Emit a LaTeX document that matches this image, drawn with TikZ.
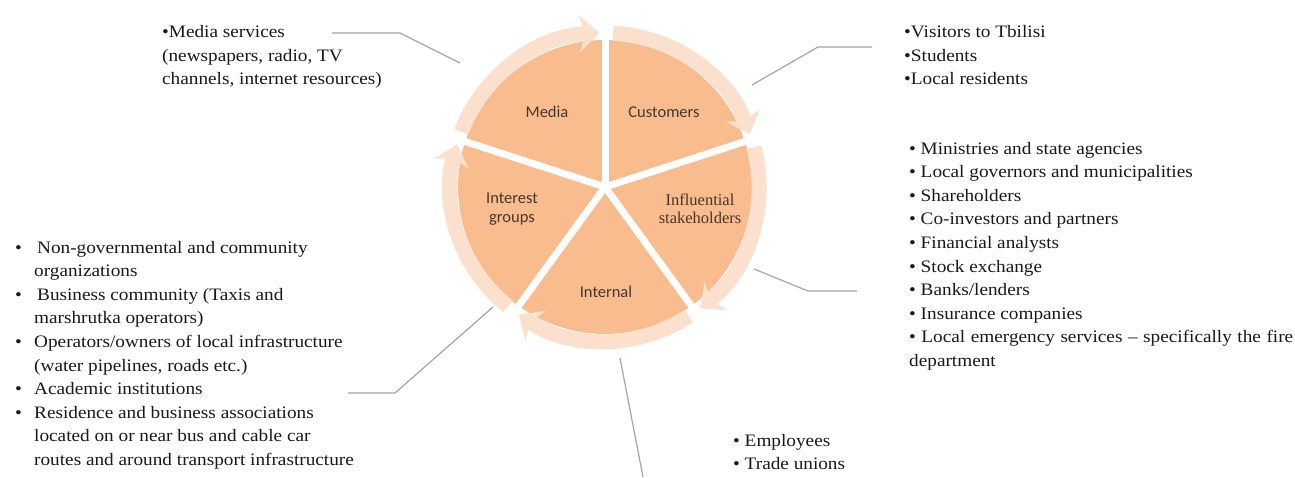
\documentclass[tikz,border=0pt]{standalone}
\usepackage{fontspec}
\setmainfont{Liberation Serif}
\newfontfamily\listfont{Liberation Serif}[FakeStretch=1.1]
\newfontfamily\slicefont{Carlito}
\usetikzlibrary{arrows.meta}

\definecolor{slicefill}{RGB}{248,188,142}
\definecolor{ringfill}{RGB}{251,224,206}
\definecolor{leadergray}{RGB}{165,165,165}
\definecolor{labeltext}{RGB}{70,55,45}
\newcommand{\itembul}{\makebox[19pt][l]{\textbullet}}
\newcommand{\itemind}{\hspace*{19pt}}

\begin{document}
\begin{tikzpicture}[x=1pt, y=1pt,
    slice/.style={fill=slicefill},
    gapline/.style={draw=white, line width=7pt},
    ring/.style={draw=ringfill, line width=15pt, -{Stealth[length=20pt, width=36pt, inset=6pt]}},
    leader/.style={draw=leadergray, line width=1.2pt},
    slicelabel/.style={font=\slicefont\fontsize{16.5}{19}\selectfont, text=labeltext, align=center},
    listtext/.style={font=\listfont\fontsize{17.5}{23.6}\selectfont, align=left, anchor=base west, inner sep=0pt, text=black!90}
]
    \useasboundingbox (0,0) rectangle (1295,477);

    % pie with the cycle of arrows round it
    \begin{scope}[shift={(605,290)}]
        \foreach \a in {90,18,-54,-126,-198}
            \fill[slice] (0,0) -- (\a:147) arc[start angle=\a, end angle=\a+72, radius=147] -- cycle;
        \foreach \a in {90,18,-54,-126,162}
            \draw[gapline] (0,0) -- (\a:172);
        \foreach \a in {162,90,18,-54,-126}
            \draw[ring] (\a-3:154) arc[start angle=\a-3, end angle=\a-70, radius=154];
    \end{scope}

    \node[slicelabel] (media) at (547,365) {Media};
    \node[slicelabel] (customers) at (664,365) {Customers};
    \node[slicelabel] (interest) at (512,268) {Interest\\groups};
    \node[slicelabel, font=\rmfamily\fontsize{16.5}{18}\selectfont] (influential) at (700,268) {Influential\\stakeholders};
    \node[slicelabel] (internal) at (606,185) {Internal};

    % stakeholder lists (placed by the baseline of their last line)
    \node[listtext] (medialist) at (162,392) {\textbullet Media services\\(newspapers, radio, TV\\channels, internet resources)};
    \node[listtext] (customerlist) at (904,392) {\textbullet Visitors to Tbilisi\\\textbullet Students\\\textbullet Local residents};
    \node[listtext] (influentiallist) at (909,110.6) {\textbullet{} Ministries and state agencies\\
        \textbullet{} Local governors and municipalities\\
        \textbullet{} Shareholders\\
        \textbullet{} Co-investors and partners\\
        \textbullet{} Financial analysts\\
        \textbullet{} Stock exchange\\
        \textbullet{} Banks/lenders\\
        \textbullet{} Insurance companies\\
        \makebox[384pt][s]{\textbullet{} Local emergency services \textendash{} specifically the fire}\\
        department};
    \node[listtext] (interestlist) at (15,11.6) {\itembul\hspace{3pt}Non-governmental and community\\
        \itemind organizations\\
        \itembul\hspace{3pt}Business community (Taxis and\\
        \itemind marshrutka operators)\\
        \itembul Operators/owners of local infrastructure\\
        \itemind (water pipelines, roads etc.)\\
        \itembul Academic institutions\\
        \itembul Residence and business associations\\
        \itemind located on or near bus and cable car\\
        \itemind routes and around transport infrastructure};
    \node[listtext] (internallist) at (733,7.4) {\textbullet{} Employees\\\textbullet{} Trade unions};

    % leader lines
    \coordinate (mediaA) at (332,444);
    \coordinate (mediaB) at (400,444);
    \coordinate (mediaC) at (460,414);
    \coordinate (custA) at (872,430);
    \coordinate (custB) at (818,430);
    \coordinate (custC) at (752,392);
    \coordinate (inflA) at (857,186);
    \coordinate (inflB) at (808,186);
    \coordinate (inflC) at (754,208);
    \coordinate (intrA) at (348,84);
    \coordinate (intrB) at (395,84);
    \coordinate (intrC) at (493,170);
    \coordinate (intlA) at (643,0);
    \coordinate (intlB) at (620,119);
    \draw[leader] (mediaA) -- (mediaB) -- (mediaC);
    \draw[leader] (custA) -- (custB) -- (custC);
    \draw[leader] (inflA) -- (inflB) -- (inflC);
    \draw[leader] (intrA) -- (intrB) -- (intrC);
    \draw[leader] (intlA) -- (intlB);
\end{tikzpicture}
\end{document}
